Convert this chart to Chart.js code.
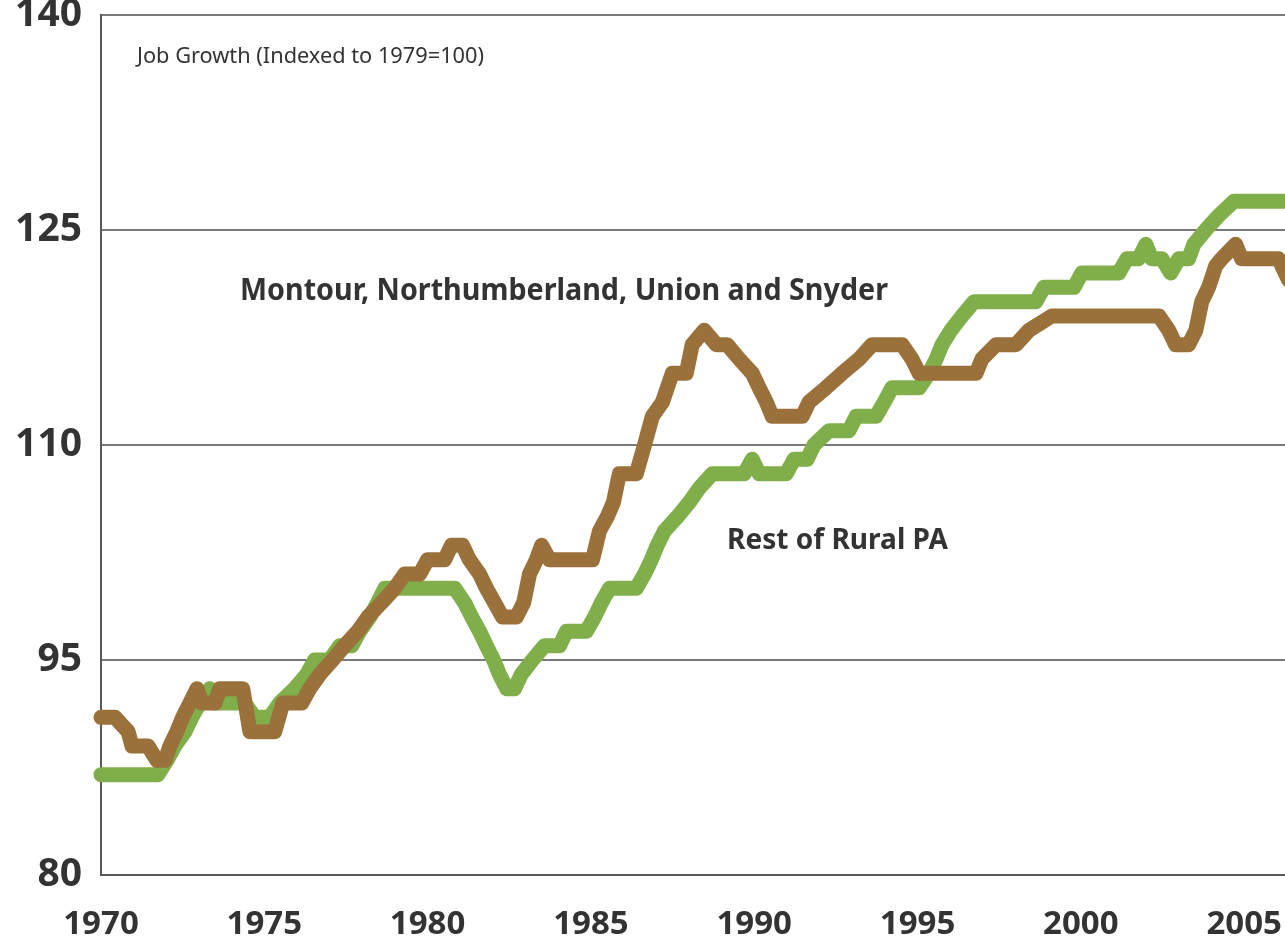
<!DOCTYPE html>
<html>
<head>
<meta charset="utf-8">
<script src="https://cdn.jsdelivr.net/npm/chart.js@4.4.0/dist/chart.umd.min.js"></script>
<style>
  html, body { margin: 0; padding: 0; background: #ffffff; overflow: hidden; }
  canvas { display: block; }
</style>
</head>
<body>
<canvas id="c" width="1285" height="939"></canvas>
<script>
// ---- Data ----
const xTickYears = [1970, 1975, 1980, 1985, 1990, 1995, 2000, 2005];
const yTickValues = [80, 95, 110, 125, 140];

const montourName = "Montour, Northumberland, Union and Snyder";
const montourYears = [1970.0,1970.43,1970.83,1970.95,1971.44,1971.71,1971.96,1972.11,1972.32,1972.5,1972.72,1972.94,1973.09,1973.49,1973.64,1974.34,1974.56,1975.32,1975.57,1976.15,1976.39,1976.7,1977.09,1977.46,1977.86,1978.17,1978.59,1978.99,1979.3,1979.76,1980.0,1980.52,1980.73,1981.07,1981.28,1981.59,1981.8,1982.05,1982.29,1982.72,1982.94,1983.12,1983.33,1983.49,1983.73,1985.05,1985.26,1985.5,1985.69,1985.87,1986.39,1986.64,1986.88,1987.19,1987.34,1987.49,1987.92,1988.1,1988.47,1988.84,1989.17,1989.54,1989.94,1990.15,1990.37,1990.55,1991.47,1991.68,1992.2,1992.69,1993.21,1993.61,1994.53,1994.83,1995.05,1996.79,1996.97,1997.4,1998.01,1998.41,1999.11,2002.39,2002.69,2002.9,2003.3,2003.52,2003.7,2003.91,2004.13,2004.31,2004.74,2004.92,2006.05,2006.36];
const montourValues = [91,91,90,89,89,88,88,89,90,91,92,93,92,92,93,93,90,90,92,92,93,94,95,96,97,98,99,100,101,101,102,102,103,103,102,101,100,99,98,98,99,101,102,103,102,102,104,105,106,108,108,110,112,113,114,115,115,117,118,117,117,116,115,114,113,112,112,113,114,115,116,117,117,116,115,115,116,117,117,118,119,119,118,117,117,118,120,121,122.5,123,124,123,123,121.5];

const ruralName = "Rest of Rural PA";
const ruralYears = [1970.0,1971.74,1972.02,1972.26,1972.57,1972.78,1973.03,1973.33,1973.49,1974.4,1974.71,1975.17,1975.47,1975.93,1976.3,1976.54,1977.0,1977.31,1977.68,1977.92,1978.23,1978.47,1978.69,1980.83,1981.13,1981.35,1981.59,1981.8,1982.02,1982.2,1982.42,1982.66,1982.87,1983.21,1983.58,1984.04,1984.25,1984.86,1985.11,1985.32,1985.57,1986.39,1986.64,1986.85,1987.03,1987.25,1987.65,1988.01,1988.32,1988.72,1989.69,1989.94,1990.15,1990.98,1991.22,1991.62,1991.83,1992.29,1992.9,1993.12,1993.73,1993.98,1994.22,1995.05,1995.35,1995.57,1995.75,1996.02,1996.36,1996.73,1998.62,1998.87,1999.79,2000.03,2001.16,2001.41,2001.77,2001.99,2002.17,2002.48,2002.75,2003.0,2003.3,2003.46,2003.82,2004.22,2004.68,2006.36];
const ruralValues = [87,87,88,89,90,91,92,93,92,92,91,91,92,93,94,95,95,96,96,97,98,99,100,100,99,98,97,96,95,94,93,93,94,95,96,96,97,97,98,99,100,100,101,102,103,104,105,106,107,108,108,109,108,108,109,109,110,111,111,112,112,113,114,114,115,116,117,118,119,120,120,121,121,122,122,123,123,124,123,123,122,123,123,124,125,126,127,127];

const axisNote = "Job Growth (Indexed to 1979=100)";

function toPoints(xs, ys) { return xs.map((x, i) => ({ x: x, y: ys[i] })); }

const BROWN = '#9a703b';
const GREEN = '#80ae4a';
const TEXT = '#333333';

function fitText(ctx, text, x, y, font, targetWidth) {
  ctx.font = font;
  const w = ctx.measureText(text).width;
  ctx.save();
  ctx.translate(x, y);
  ctx.scale(targetWidth / w, 1);
  ctx.fillText(text, 0, 0);
  ctx.restore();
}

const annotations = {
  id: 'annotations',
  afterDatasetsDraw(chart) {
    const ctx = chart.ctx;
    ctx.save();
    ctx.fillStyle = TEXT;
    ctx.textAlign = 'left';
    ctx.textBaseline = 'alphabetic';
    fitText(ctx, axisNote, 137, 63, '400 21px "Noto Sans"', 347);
    fitText(ctx, montourName, 240, 300, '700 30px "Noto Sans"', 648);
    fitText(ctx, ruralName, 727, 549, '700 29px "Noto Sans"', 221);
    ctx.restore();
  }
};

const lineStyle = {
  borderWidth: 15,
  borderJoinStyle: 'round',
  borderCapStyle: 'round',
  pointRadius: 0,
  tension: 0,
  clip: { left: 12, top: 12, right: 0, bottom: 12 }
};

new Chart(document.getElementById('c'), {
  type: 'line',
  data: {
    datasets: [
      Object.assign({
        label: montourName,
        data: toPoints(montourYears, montourValues),
        borderColor: BROWN,
        backgroundColor: BROWN,
        order: 0
      }, lineStyle),
      Object.assign({
        label: ruralName,
        data: toPoints(ruralYears, ruralValues),
        borderColor: GREEN,
        backgroundColor: GREEN,
        order: 1
      }, lineStyle)
    ]
  },
  options: {
    responsive: false,
    devicePixelRatio: 1,
    animation: false,
    layout: { padding: { top: 15, right: 0, left: 0, bottom: 0 } },
    plugins: {
      legend: { display: false },
      tooltip: { enabled: false },
      title: { display: false }
    },
    scales: {
      x: {
        type: 'linear',
        min: 1970,
        max: 2006.25,
        afterBuildTicks(scale) { scale.ticks = xTickYears.map(v => ({ value: v })); },
        afterFit(scale) { scale.height = 64; scale.paddingLeft = 0; scale.paddingRight = 0; },
        grid: { display: false, drawTicks: false },
        border: { display: true, color: '#5a5a5a', width: 2 },
        ticks: {
          color: TEXT,
          padding: 30,
          font: { family: '"Noto Sans"', size: 33, weight: '700' },
          callback: (v) => String(v),
          maxRotation: 0
        }
      },
      y: {
        type: 'linear',
        min: 80,
        max: 140,
        afterBuildTicks(scale) { scale.ticks = yTickValues.map(v => ({ value: v })); },
        afterFit(scale) { scale.width = 101; scale.paddingTop = 0; scale.paddingBottom = 0; },
        grid: { display: true, drawTicks: false, color: '#7a7a7a', lineWidth: 2 },
        border: { display: true, color: '#5a5a5a', width: 2 },
        ticks: {
          color: TEXT,
          padding: 19,
          font: { family: '"Noto Sans"', size: 39, weight: '700' },
          callback: (v) => String(v)
        }
      }
    }
  },
  plugins: [annotations]
});
</script>
</body>
</html>
